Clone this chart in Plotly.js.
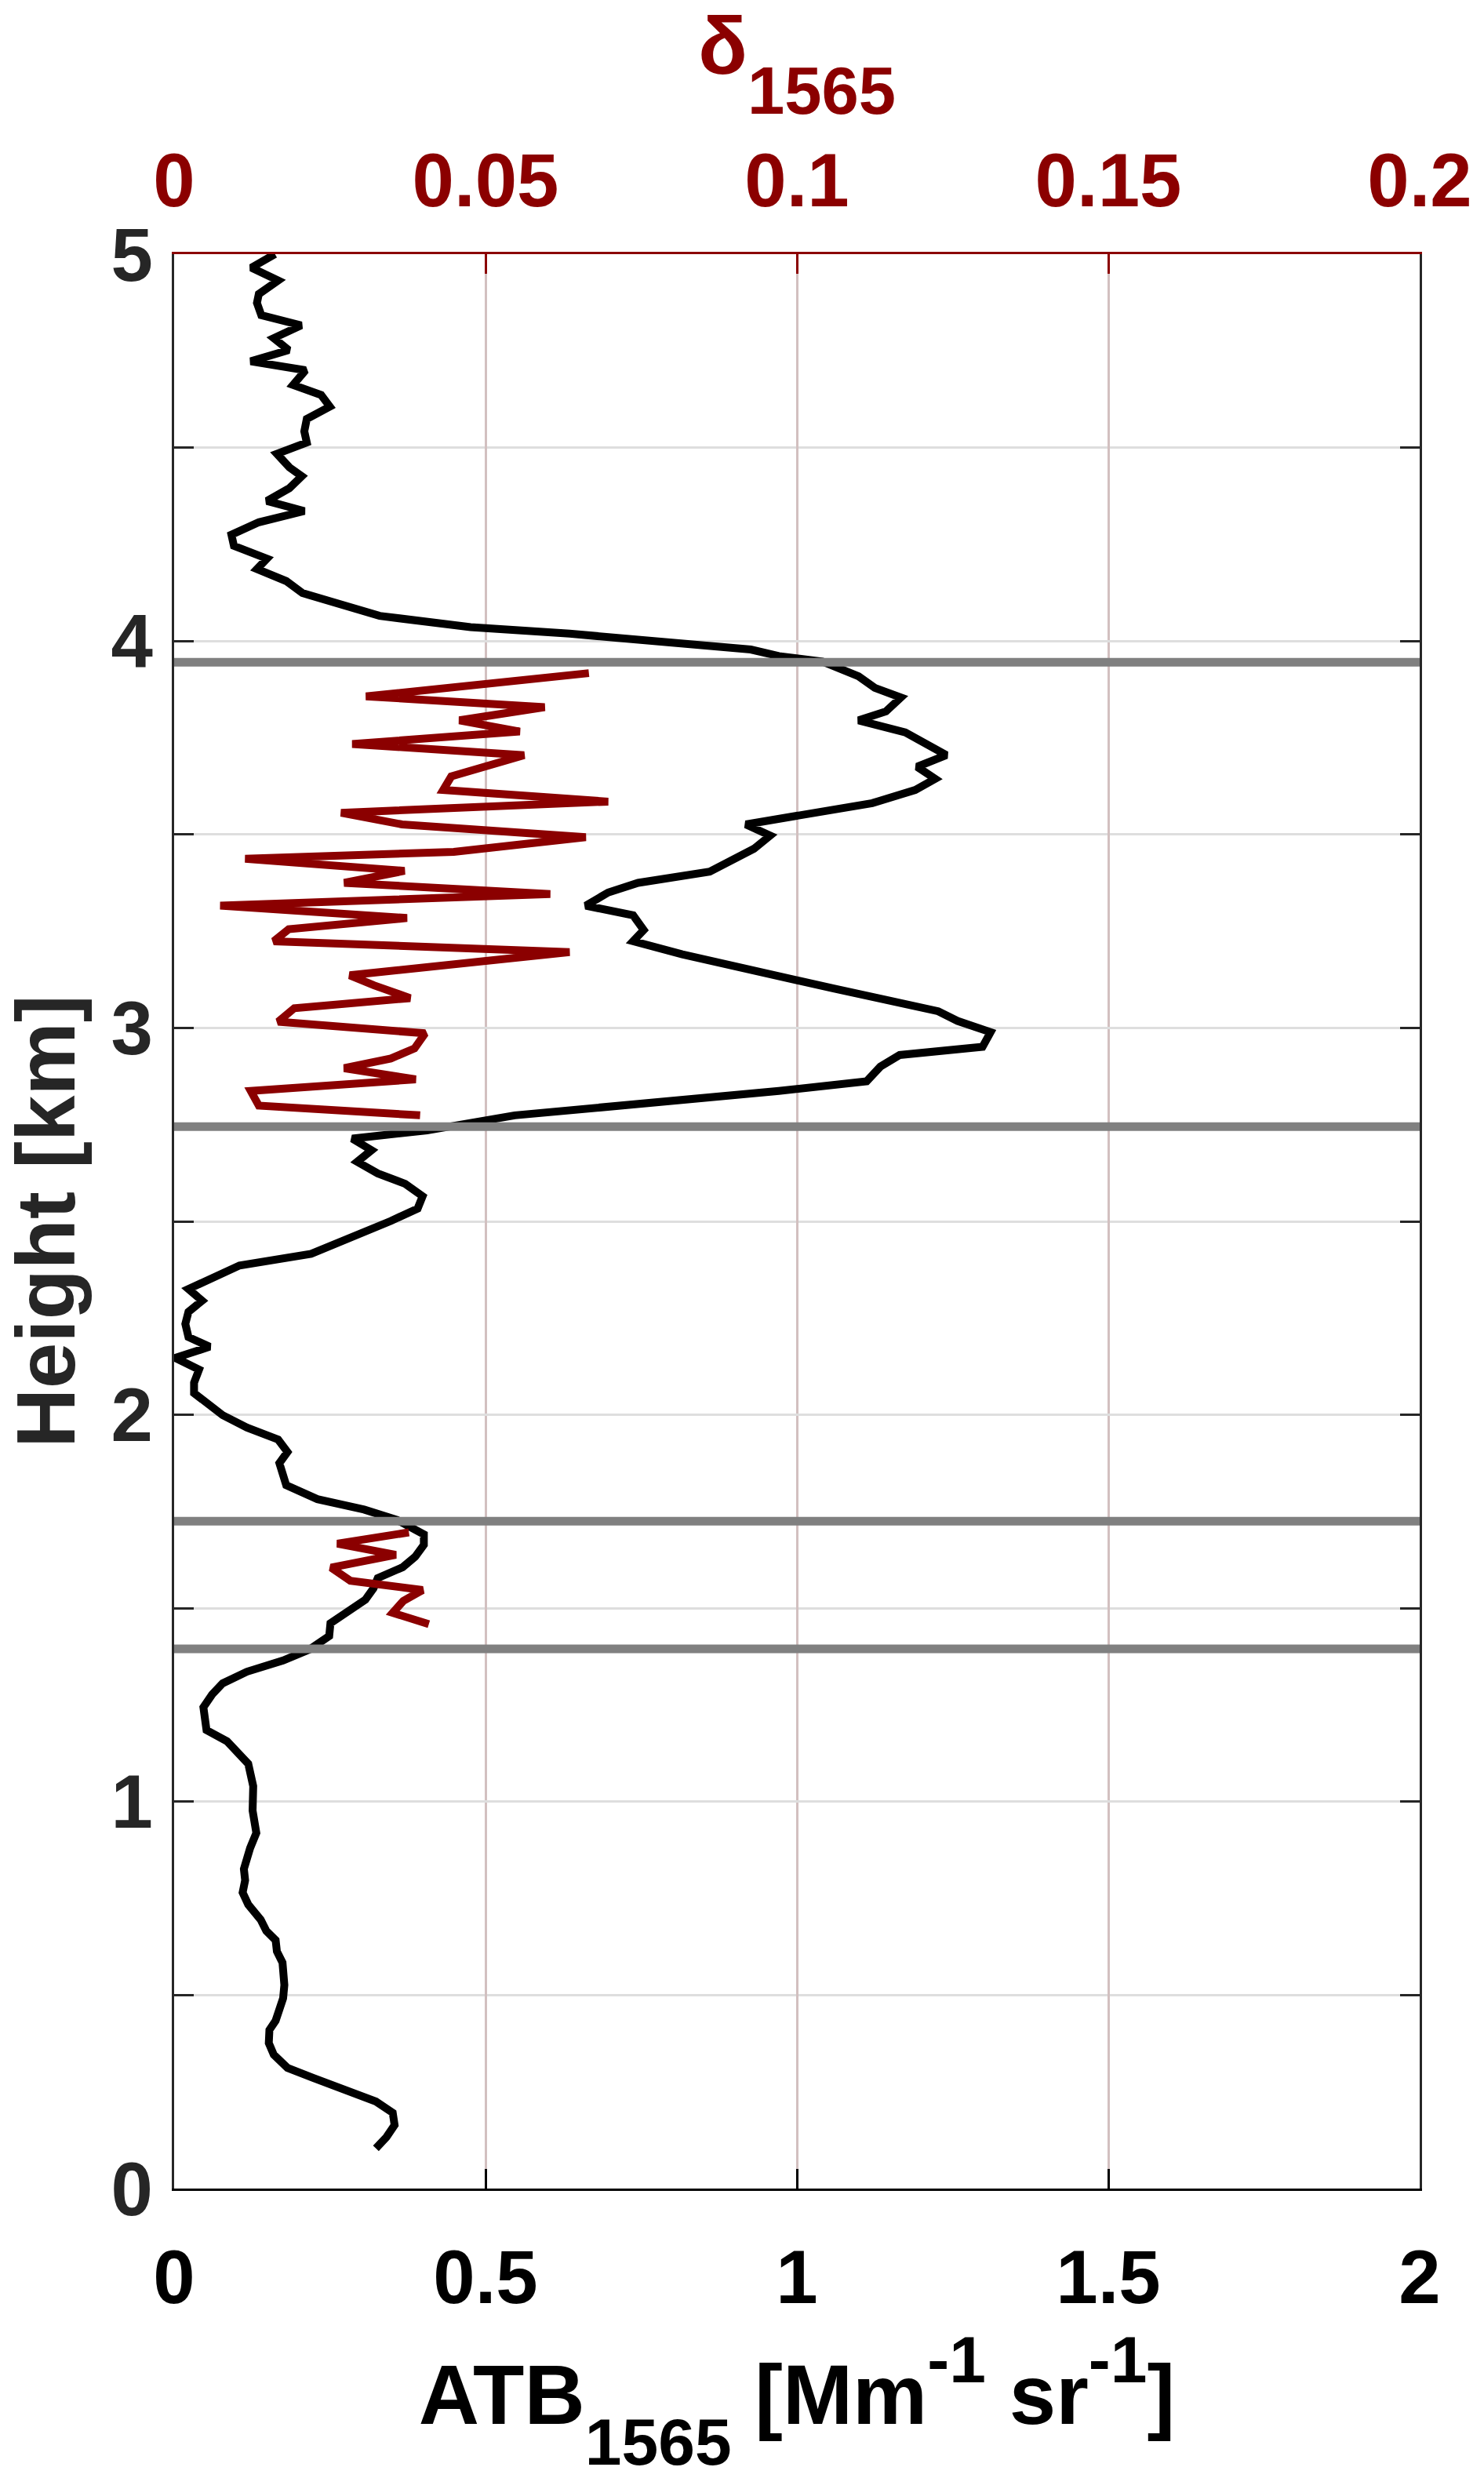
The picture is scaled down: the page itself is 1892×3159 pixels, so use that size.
<!DOCTYPE html>
<html>
<head>
<meta charset="utf-8">
<script src="https://cdn.plot.ly/plotly-3.0.1.min.js"></script>
<style>html,body{margin:0;padding:0;background:#fff;}</style>
</head>
<body>
<div id="chart" style="width:1892px;height:3159px;"></div>
<script>
// ATB profile (black): height [km] and ATB_1565 [Mm-1 sr-1]
const atbHeight = [5.0,4.965,4.932,4.897,4.874,4.842,4.816,4.783,4.752,4.723,4.700,4.662,4.636,4.606,4.574,4.542,4.513,4.484,4.449,4.426,4.395,4.362,4.336,4.307,4.275,4.246,4.213,4.186,4.155,4.124,4.065,4.036,4.019,4.001,3.978,3.961,3.947,3.909,3.879,3.854,3.818,3.795,3.764,3.705,3.675,3.644,3.615,3.581,3.547,3.526,3.497,3.463,3.404,3.375,3.350,3.316,3.291,3.253,3.224,3.190,3.102,3.043,3.018,2.989,2.951,2.930,2.900,2.862,2.837,2.774,2.735,2.714,2.684,2.654,2.624,2.597,2.565,2.533,2.501,2.473,2.445,2.416,2.386,2.349,2.325,2.295,2.266,2.235,2.201,2.176,2.147,2.117,2.083,2.056,1.999,1.967,1.936,1.904,1.875,1.818,1.782,1.755,1.728,1.691,1.664,1.633,1.606,1.578,1.551,1.522,1.492,1.461,1.428,1.394,1.365,1.336,1.306,1.277,1.244,1.214,1.185,1.156,1.122,1.098,1.040,0.977,0.919,0.880,0.826,0.797,0.765,0.734,0.695,0.666,0.642,0.613,0.584,0.526,0.492,0.434,0.410,0.376,0.346,0.312,0.286,0.254,0.225,0.196,0.164,0.133,0.104];
const atbValue = [0.162,0.124,0.167,0.136,0.133,0.140,0.204,0.160,0.184,0.123,0.211,0.191,0.236,0.250,0.213,0.209,0.213,0.165,0.185,0.205,0.185,0.149,0.209,0.136,0.092,0.096,0.149,0.133,0.180,0.206,0.330,0.476,0.635,0.767,0.926,0.971,1.041,1.099,1.125,1.167,1.143,1.099,1.174,1.240,1.193,1.222,1.190,1.121,1.001,0.918,0.957,0.931,0.860,0.745,0.697,0.661,0.737,0.754,0.737,0.816,1.059,1.227,1.258,1.311,1.298,1.165,1.134,1.112,0.971,0.547,0.406,0.286,0.317,0.294,0.327,0.371,0.399,0.391,0.348,0.305,0.269,0.220,0.105,0.054,0.023,0.045,0.023,0.018,0.023,0.057,0.002,0.040,0.032,0.032,0.078,0.117,0.167,0.182,0.169,0.180,0.230,0.305,0.358,0.401,0.401,0.387,0.367,0.327,0.320,0.307,0.281,0.251,0.249,0.218,0.175,0.117,0.078,0.061,0.047,0.050,0.052,0.085,0.107,0.119,0.127,0.126,0.132,0.122,0.112,0.114,0.110,0.119,0.139,0.148,0.163,0.165,0.174,0.177,0.175,0.163,0.153,0.152,0.160,0.182,0.223,0.281,0.324,0.351,0.354,0.341,0.324];

// Depolarisation ratio (dark red) delta_1565 in two layers (null = gap)
const deltaHeight = [3.917,3.857,3.829,3.795,3.766,3.734,3.705,3.650,3.615,3.585,3.556,3.526,3.493,3.455,3.437,3.406,3.375,3.346,3.316,3.284,3.255,3.224,3.196,3.136,3.110,3.077,3.051,3.016,2.986,2.947,2.921,2.896,2.867,2.837,2.799,2.774,null,1.696,1.667,1.638,1.605,1.571,1.547,1.519,1.488,1.459];
const deltaValue = [0.0666,0.0308,0.0595,0.0458,0.0555,0.0286,0.0562,0.0445,0.0432,0.0697,0.0268,0.0366,0.0661,0.0449,0.0114,0.0370,0.0273,0.0604,0.0074,0.0374,0.0184,0.0160,0.0635,0.0282,0.0321,0.0379,0.0193,0.0167,0.0403,0.0386,0.0348,0.0273,0.0388,0.0123,0.0136,0.0395,null,0.0377,0.0262,0.0356,0.0252,0.0283,0.0399,0.0368,0.0351,0.0409];

// Layer boundaries (grey horizontal lines) [km]
const layerBounds = [3.945, 2.745, 1.725, 1.395];

// Tick definitions
const yTickVals = [0,1,2,3,4,5];
const yTickText = ['0','1','2','3','4','5'];
const yMinorTickVals = [0.5,1.5,2.5,3.5,4.5];
const xTickVals = [0,0.5,1,1.5,2];
const xTickText = ['0','0.5','1','1.5','2'];
const x2TickVals = [0,0.05,0.1,0.15,0.2];
const x2TickText = ['0','0.05','0.1','0.15','0.2'];

const DR = '#8B0000';
const FONT = '"Liberation Sans", Arial, Helvetica, sans-serif';

const traces = [
  {x: atbValue, y: atbHeight, type: 'scatter', mode: 'lines', xaxis: 'x', yaxis: 'y',
   line: {color: '#000000', width: 10}, hoverinfo: 'skip', showlegend: false},
  {x: deltaValue, y: deltaHeight, type: 'scatter', mode: 'lines', xaxis: 'x2', yaxis: 'y',
   connectgaps: false, line: {color: DR, width: 10}, hoverinfo: 'skip', showlegend: false}
];

const shapes = layerBounds.map(h => ({
  type: 'line', xref: 'paper', x0: 0, x1: 1, yref: 'y', y0: h, y1: h,
  line: {color: '#808080', width: 11}, layer: 'above'
}));

const layout = {
  width: 1892, height: 3159,
  margin: {l: 222, r: 82, t: 324, b: 369, pad: 0},
  paper_bgcolor: '#ffffff', plot_bgcolor: '#ffffff',
  font: {family: FONT, weight: 700},
  showlegend: false,
  shapes: shapes,
  xaxis: {
    range: [0, 2], tickvals: xTickVals, ticktext: xTickText,
    ticks: 'inside', ticklen: 25, tickwidth: 3, tickcolor: '#000000',
    showline: true, linecolor: '#000000', linewidth: 3, mirror: false,
    showgrid: true, gridcolor: '#d2c0c0', gridwidth: 3, zeroline: false,
    tickfont: {family: FONT, size: 96, color: '#000000', weight: 700},
    ticklabelstandoff: 28,
    automargin: false,
    title: {text: 'ATB<sub><span style="font-size:84px">1565</span></sub> [Mm<sup><span style="font-size:84px">-1</span></sup> sr<sup><span style="font-size:84px">-1</span></sup>]',
            font: {family: FONT, size: 107, color: '#000000', weight: 700}, standoff: 60}
  },
  xaxis2: {
    overlaying: 'x', side: 'top', anchor: 'y',
    range: [0, 0.2], tickvals: x2TickVals, ticktext: x2TickText,
    ticks: 'inside', ticklen: 25, tickwidth: 3, tickcolor: DR,
    showline: true, linecolor: DR, linewidth: 3,
    showgrid: false, zeroline: false,
    tickfont: {family: FONT, size: 96, color: DR, weight: 700},
    ticklabelstandoff: 20,
    automargin: false,
    title: {text: 'δ<sub><span style="font-size:85px">1565</span></sub>',
            font: {family: FONT, size: 104, color: DR, weight: 700}, standoff: 66}
  },
  yaxis: {
    range: [0, 5], tickvals: yTickVals, ticktext: yTickText,
    ticks: 'inside', ticklen: 25, tickwidth: 3, tickcolor: '#262626',
    showline: true, linecolor: '#262626', linewidth: 3, mirror: 'ticks',
    showgrid: true, gridcolor: '#dedede', gridwidth: 3, zeroline: false,
    minor: {tickvals: yMinorTickVals, ticks: 'inside', ticklen: 25, tickwidth: 3, tickcolor: '#262626',
            showgrid: true, gridcolor: '#dedede', gridwidth: 3},
    tickfont: {family: FONT, size: 96, color: '#262626', weight: 700},
    ticklabelstandoff: 5,
    automargin: false,
    title: {text: 'Height [km]', font: {family: FONT, size: 105, color: '#262626', weight: 700}, standoff: 40}
  }
};

// deeper sub/superscript offsets, as in the original figure
const dyMap = {'0.3em': '0.7em', '-0.21em': '-0.49em', '-0.6em': '-0.7em', '0.42em': '0.49em'};

Plotly.newPlot('chart', traces, layout, {staticPlot: true, displayModeBar: false}).then(() => {
  document.querySelectorAll('#chart svg .g-xtitle tspan, #chart svg .g-x2title tspan').forEach(t => {
    const dy = t.getAttribute('dy');
    if (dy && dyMap[dy]) t.setAttribute('dy', dyMap[dy]);
  });
});
</script>
</body>
</html>
